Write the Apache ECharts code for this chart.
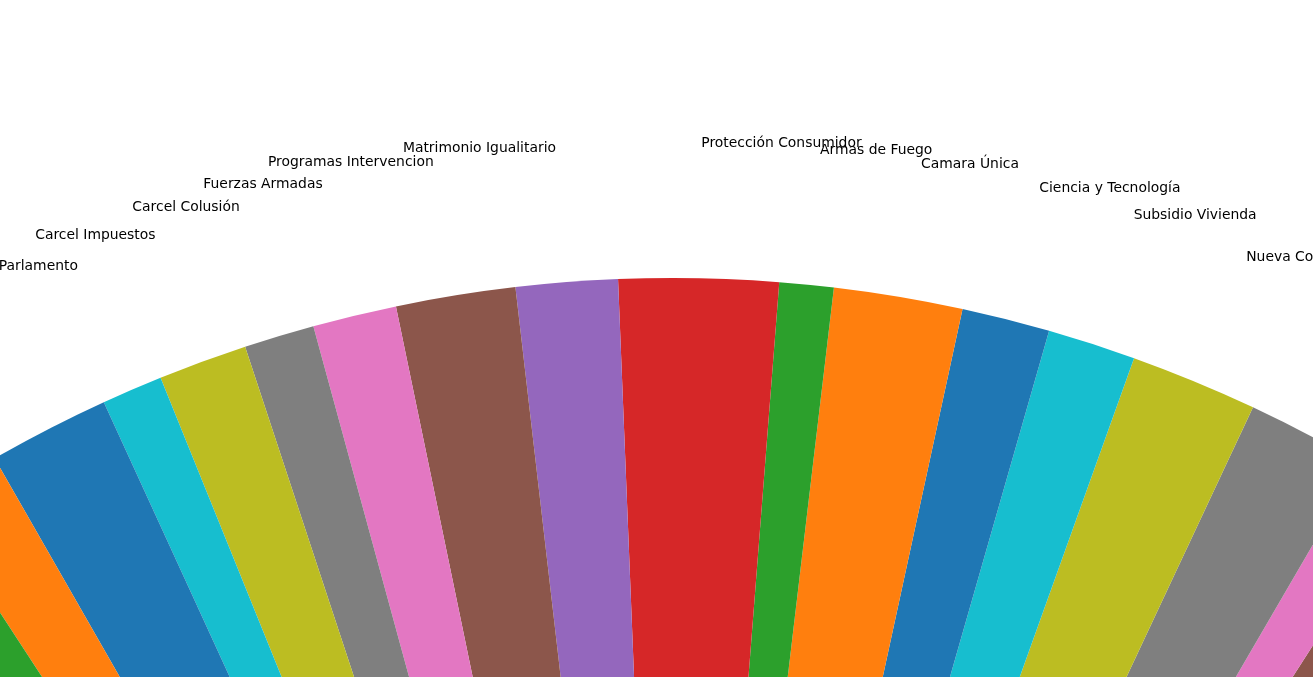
<!DOCTYPE html>
<html>
<head>
<meta charset="utf-8">
<script src="https://cdn.jsdelivr.net/npm/echarts@6/dist/echarts.min.js"></script>
<style>
  html, body { margin: 0; padding: 0; background: #fff; }
  #chart { width: 1313px; height: 677px; }
</style>
</head>
<body>
<div id="chart"></div>
<script>
// Slices in counter-clockwise order (share of total, %).
const categories = [
  '', '', '', 'Nueva Constitución', 'Subsidio Vivienda', 'Ciencia y Tecnología',
  'Camara Única', 'Armas de Fuego', 'Protección Consumidor', 'Matrimonio Igualitario',
  'Programas Intervencion', 'Fuerzas Armadas', 'Carcel Colusión', 'Carcel Impuestos',
  'Parlamento', '', '', '', ''
];
const shares = [
  1.00, 0.68, 1.41, 1.50, 1.04, 1.04,
  1.52, 0.64, 1.88, 1.20,
  1.41, 0.99, 0.83, 1.05,
  0.72, 1.43, 0.93, 1.00, 79.73
];

// tab10 palette, rotated so the first slice is brown
const palette = ['#8c564b', '#e377c2', '#7f7f7f', '#bcbd22', '#17becf',
                 '#1f77b4', '#ff7f0e', '#2ca02c', '#d62728', '#9467bd'];

const R = 1366;
const data = categories.map((name, i) => ({
  name: name,
  value: shares[i],
  label: { show: name !== '' }
}));

const chart = echarts.init(document.getElementById('chart'), null, { renderer: 'canvas' });
chart.setOption({
  animation: false,
  color: palette,
  series: [{
    type: 'pie',
    center: [673, 1644],
    radius: R,
    startAngle: 53.75,
    clockwise: false,
    avoidLabelOverlap: false,
    labelLayout: function () { return { hideOverlap: false, dy: 2 }; },
    itemStyle: { borderWidth: 0 },
    emphasis: { disabled: true },
    label: {
      position: 'outside',
      formatter: '{b}',
      color: '#000',
      fontFamily: 'DejaVu Sans',
      fontSize: 13.9,
      distanceToLabelLine: 0
    },
    labelLine: { show: false, length: R * 0.1, length2: 0 },
    data: data
  }]
});
</script>
</body>
</html>
